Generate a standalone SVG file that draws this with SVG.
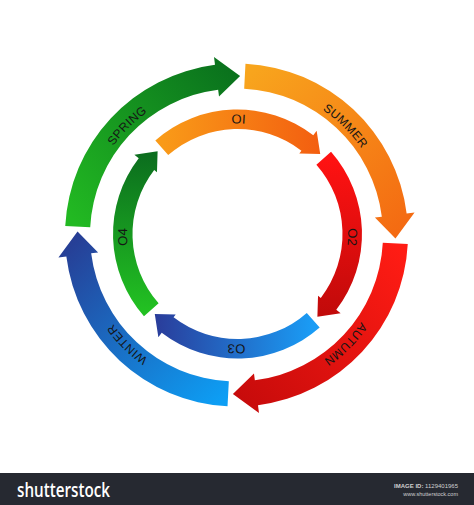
<svg xmlns="http://www.w3.org/2000/svg" xmlns:xlink="http://www.w3.org/1999/xlink" width="474" height="505" viewBox="0 0 474 505">
  <style>
    .lbl { font-family: "Liberation Sans", Arial, sans-serif; font-size: 12px; fill: #151515; letter-spacing: 0.4px; }
    .ilbl { font-family: "Liberation Sans", Arial, sans-serif; font-size: 13px; fill: #151515; }
    .bar { fill: #262931; }
    .logo { font-family: "Open Sans", "Liberation Sans", sans-serif; font-size: 19px; font-weight: 600; fill: #ffffff; }
    .meta { font-family: "Liberation Sans", Arial, sans-serif; fill: #d0d0d0; }
  </style>
  <defs>
    <!-- outer ring gradients -->
    <linearGradient id="gRed" gradientUnits="userSpaceOnUse" x1="395" y1="243" x2="233" y2="394">
      <stop offset="0" stop-color="#ff1c14"/><stop offset="1" stop-color="#c70b0b"/>
    </linearGradient>
    <linearGradient id="gBlue" gradientUnits="userSpaceOnUse" x1="228" y1="394" x2="78" y2="231">
      <stop offset="0" stop-color="#0d9ef4"/><stop offset="1" stop-color="#273d94"/>
    </linearGradient>
    <linearGradient id="gGreen" gradientUnits="userSpaceOnUse" x1="78" y1="226" x2="240" y2="76">
      <stop offset="0" stop-color="#22b922"/><stop offset="1" stop-color="#0a711d"/>
    </linearGradient>
    <linearGradient id="gOrange" gradientUnits="userSpaceOnUse" x1="245" y1="76" x2="395" y2="238">
      <stop offset="0" stop-color="#f8a51d"/><stop offset="1" stop-color="#f46a12"/>
    </linearGradient>
    <!-- inner ring gradients -->
    <linearGradient id="giOrange" gradientUnits="userSpaceOnUse" x1="162" y1="148" x2="320" y2="154">
      <stop offset="0" stop-color="#f99a18"/><stop offset="1" stop-color="#f35e10"/>
    </linearGradient>
    <linearGradient id="giRed" gradientUnits="userSpaceOnUse" x1="324" y1="158" x2="317" y2="317">
      <stop offset="0" stop-color="#ff1212"/><stop offset="1" stop-color="#c00a0a"/>
    </linearGradient>
    <linearGradient id="giBlue" gradientUnits="userSpaceOnUse" x1="313" y1="320" x2="155" y2="314">
      <stop offset="0" stop-color="#1a9cf5"/><stop offset="1" stop-color="#2a3c9a"/>
    </linearGradient>
    <linearGradient id="giGreen" gradientUnits="userSpaceOnUse" x1="151" y1="310" x2="157" y2="151">
      <stop offset="0" stop-color="#22c022"/><stop offset="1" stop-color="#0b6c1e"/>
    </linearGradient>
    <!-- text arcs -->
    <path id="tAutumn" d="M387.92,248.25 A152,152 0 0 1 249.75,386.42"/>
    <path id="tWinter" d="M223.25,386.42 A152,152 0 0 1 85.08,248.25"/>
    <path id="tSpring" d="M85.08,221.75 A152,152 0 0 1 223.25,83.58"/>
    <path id="tSummer" d="M249.75,83.58 A152,152 0 0 1 387.92,221.75"/>
    <path id="tQ1" d="M183.09,137.83 A110.5,110.5 0 0 1 293.58,138.79"/>
    <path id="tQ2" d="M334.61,181.27 A110.5,110.5 0 0 1 331.72,291.74"/>
    <path id="tQ3" d="M291.91,330.17 A110.5,110.5 0 0 1 181.42,329.21"/>
    <path id="tQ4" d="M143.28,291.74 A110.5,110.5 0 0 1 140.39,181.27"/>
  </defs>

  <rect x="0" y="0" width="474" height="505" fill="#ffffff"/>

  <!-- outer ring -->
  <g id="spring">
    <path d="M65.24,226.02 A171.5,171.5 0 0 1 215.01,64.85 L214.00,56.92 L240.11,76.04 L219.02,96.60 L218.14,89.66 A146.5,146.5 0 0 0 90.20,227.33 Z" fill="url(#gGreen)"/>
    <text class="lbl"><textPath href="#tSpring" xlink:href="#tSpring" startOffset="50%" text-anchor="middle">SPRING</textPath></text>
  </g>
  <g id="summer">
    <path d="M245.48,63.74 A171.5,171.5 0 0 1 406.65,213.51 L414.58,212.50 L395.46,238.61 L374.90,217.52 L381.84,216.64 A146.5,146.5 0 0 0 244.17,88.70 Z" fill="url(#gOrange)"/>
    <text class="lbl"><textPath href="#tSummer" xlink:href="#tSummer" startOffset="50%" text-anchor="middle">SUMMER</textPath></text>
  </g>
  <g id="autumn">
    <path d="M407.77,243.98 A171.5,171.5 0 0 1 257.99,405.15 L259.00,413.08 L232.89,393.96 L253.98,373.40 L254.86,380.34 A146.5,146.5 0 0 0 382.80,242.67 Z" fill="url(#gRed)"/>
    <text class="lbl"><textPath href="#tAutumn" xlink:href="#tAutumn" startOffset="50%" text-anchor="middle">AUTUMN</textPath></text>
  </g>
  <g id="winter">
    <path d="M227.52,406.27 A171.5,171.5 0 0 1 66.35,256.49 L58.42,257.50 L77.54,231.39 L98.10,252.48 L91.16,253.36 A146.5,146.5 0 0 0 228.83,381.30 Z" fill="url(#gBlue)"/>
    <text class="lbl"><textPath href="#tWinter" xlink:href="#tWinter" startOffset="50%" text-anchor="middle">WINTER</textPath></text>
  </g>

  <!-- inner ring -->
  <g id="q1">
    <path d="M155.33,140.47 A124.5,124.5 0 0 1 313.29,135.23 L316.64,130.86 L320.22,154.11 L299.29,153.48 L301.42,150.70 A105,105 0 0 0 168.20,155.12 Z" fill="url(#giOrange)"/>
    <text class="ilbl"><textPath href="#tQ1" xlink:href="#tQ1" startOffset="50%" text-anchor="middle">OI</textPath></text>
  </g>
  <g id="q2">
    <path d="M331.03,151.83 A124.5,124.5 0 0 1 336.27,309.79 L340.64,313.14 L317.39,316.72 L318.03,295.79 L320.80,297.92 A105,105 0 0 0 316.38,164.70 Z" fill="url(#giRed)"/>
    <text class="ilbl"><textPath href="#tQ2" xlink:href="#tQ2" startOffset="50%" text-anchor="middle">O2</textPath></text>
  </g>
  <g id="q3">
    <path d="M319.67,327.53 A124.5,124.5 0 0 1 161.71,332.77 L158.36,337.14 L154.78,313.89 L175.71,314.53 L173.58,317.30 A105,105 0 0 0 306.80,312.88 Z" fill="url(#giBlue)"/>
    <text class="ilbl"><textPath href="#tQ3" xlink:href="#tQ3" startOffset="50%" text-anchor="middle">O3</textPath></text>
  </g>
  <g id="q4">
    <path d="M143.97,316.17 A124.5,124.5 0 0 1 138.73,158.21 L134.36,154.86 L157.61,151.28 L156.98,172.21 L154.20,170.08 A105,105 0 0 0 158.62,303.30 Z" fill="url(#giGreen)"/>
    <text class="ilbl"><textPath href="#tQ4" xlink:href="#tQ4" startOffset="50%" text-anchor="middle">O4</textPath></text>
  </g>

  <!-- footer bar -->
  <g id="footer">
    <rect class="bar" x="0" y="473" width="474" height="32"/>
    <text class="logo" x="17" y="497" textLength="93" lengthAdjust="spacingAndGlyphs">shutterstock</text>
    <text class="meta" x="458" y="487.5" font-size="6" text-anchor="end"><tspan font-weight="bold">IMAGE ID:</tspan> 1129401965</text>
    <text class="meta" x="458" y="495.5" font-size="5.5" text-anchor="end" fill="#b8b8b8">www.shutterstock.com</text>
  </g>
</svg>
